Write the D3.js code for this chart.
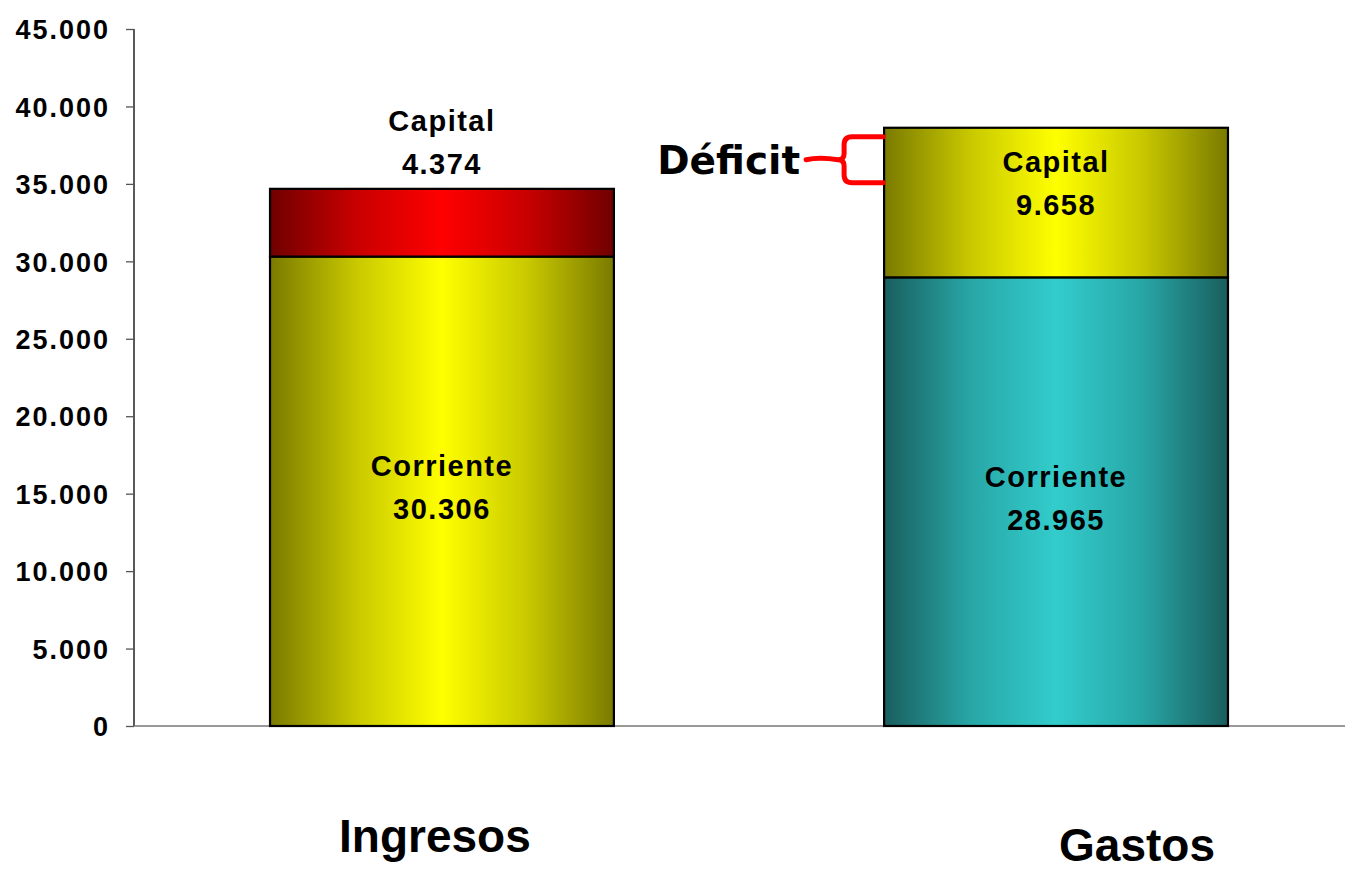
<!DOCTYPE html>
<html>
<head>
<meta charset="utf-8">
<script src="https://cdn.jsdelivr.net/npm/d3@7"></script>
<style>
  body { margin: 0; background: #fff; }
  svg { display: block; font-family: Arial, "Liberation Sans", sans-serif; }
</style>
</head>
<body>
<svg id="paper"></svg>
<script>
// data
const categories = ["Ingresos", "Gastos"];
const corriente = [30306, 28965];
const capital = [4374, 9658];
const yTicks = [0, 5000, 10000, 15000, 20000, 25000, 30000, 35000, 40000, 45000];

const width = 1345, height = 873;
const svg = d3.select("#paper").attr("width", width).attr("height", height);

const y = d3.scaleLinear().domain([0, 45000]).range([726, 29]);
const x = d3.scaleBand().domain(categories).range([134, 1364])
  .paddingInner(0.44).paddingOuter(0.2215);

const fmt = (v) => d3.format(",")(v).replace(/,/g, ".");

// gradients
const defs = svg.append("defs");
const grads = {
  yellow: ["#7a7a00", "#c8c800", "#ffff00"],
  red: ["#700000", "#c80000", "#ff0000"],
  teal: ["#1a5e5e", "#28a6a6", "#33cccc"],
};
Object.entries(grads).forEach(([name, c]) => {
  const g = defs.append("linearGradient").attr("id", "g-" + name)
    .attr("x1", 0).attr("x2", 1).attr("y1", 0).attr("y2", 0);
  [[0, c[0]], [0.25, c[1]], [0.5, c[2]], [0.75, c[1]], [1, c[0]]].forEach(([o, col]) => {
    g.append("stop").attr("offset", o).attr("stop-color", col);
  });
});

// axis
const axis = svg.append("g").attr("transform", "translate(134,0)")
  .call(d3.axisLeft(y).tickValues(yTicks).tickSize(8).tickFormat(fmt));
axis.select(".domain").attr("stroke", "#000").attr("stroke-width", 1.3)
  .attr("d", `M0,${y(45000)}V${y(0)}`);
axis.selectAll(".tick line").attr("stroke", "#555").attr("stroke-width", 1.3);
axis.selectAll(".tick text")
  .attr("x", -24).attr("dy", "0.36em")
  .style("font-size", "27px").style("font-weight", "bold")
  .style("letter-spacing", "2px").style("font-family", "Arial, 'Liberation Sans'")
  .attr("fill", "#000");

svg.append("line").attr("x1", 134).attr("x2", width).attr("y1", y(0)).attr("y2", y(0))
  .attr("stroke", "#777").attr("stroke-width", 1.5);

// bars
const segs = [];
categories.forEach((c, i) => {
  segs.push({ cat: c, y0: 0, y1: corriente[i], fill: i === 0 ? "yellow" : "teal", name: "Corriente", v: corriente[i] });
  segs.push({ cat: c, y0: corriente[i], y1: corriente[i] + capital[i], fill: i === 0 ? "red" : "yellow", name: "Capital", v: capital[i] });
});

svg.append("g").selectAll("rect").data(segs).enter().append("rect")
  .attr("x", (d) => x(d.cat))
  .attr("y", (d) => y(d.y1))
  .attr("width", x.bandwidth())
  .attr("height", (d) => y(d.y0) - y(d.y1))
  .attr("fill", (d) => "url(#g-" + d.fill + ")")
  .attr("stroke", "#000").attr("stroke-width", 2.2);

// labels
const labelStyle = (sel) => sel.attr("text-anchor", "middle")
  .style("font-size", "29px").style("font-weight", "bold").style("letter-spacing", "1.5px")
  .attr("fill", "#000");

segs.forEach((d) => {
  const cx = x(d.cat) + x.bandwidth() / 2;
  let ty;
  if (d.name === "Corriente") {
    ty = (y(d.y0) + y(d.y1)) / 2 - 3;
  } else if (d.cat === "Ingresos") {
    ty = y(d.y1) - 46;
  } else {
    ty = y(d.y1) + 56;
  }
  labelStyle(svg.append("text").attr("x", cx).attr("y", ty - 12)).text(d.name);
  labelStyle(svg.append("text").attr("x", cx).attr("y", ty + 31)).text(fmt(d.v));
});

// category labels
const catY = { Ingresos: 852, Gastos: 861 };
const catDx = { Ingresos: -7, Gastos: 81 };
svg.append("g").selectAll("text").data(categories).enter().append("text")
  .attr("x", (d) => x(d) + x.bandwidth() / 2 + catDx[d])
  .attr("y", (d) => catY[d])
  .attr("text-anchor", "middle")
  .style("font-size", "46px").style("font-weight", "bold")
  .text((d) => d);

// deficit bracket
const gx = x("Gastos");
const topB = y(corriente[1] + capital[1]) + 9;
const botB = y(corriente[0] + capital[0]) - 6;
const midB = (topB + botB) / 2;
const bx = gx - 40;
svg.append("path")
  .attr("d", `M${gx - 1},${topB} H${bx + 8} Q${bx},${topB} ${bx},${topB + 8} V${midB - 6} Q${bx},${midB} ${bx - 6},${midB}
    Q${bx},${midB} ${bx},${midB + 6} V${botB - 8} Q${bx},${botB} ${bx + 8},${botB} H${gx - 1}
    M${bx - 6},${midB} Q${bx - 25},${midB - 3} ${bx - 38},${midB}`)
  .attr("fill", "none").attr("stroke", "#ff0000").attr("stroke-width", 5)
  .attr("stroke-linecap", "round");

svg.append("text")
  .attr("x", bx - 44).attr("y", midB + 14)
  .attr("text-anchor", "end")
  .style("font-family", "Verdana, 'DejaVu Sans', sans-serif")
  .style("font-size", "39px").style("font-weight", "bold")
  .text("Déficit");
</script>
</body>
</html>
